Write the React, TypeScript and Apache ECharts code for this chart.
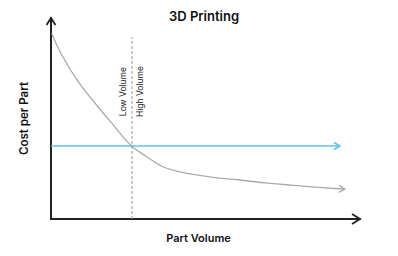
import React, { useEffect, useRef } from "react";
import * as echarts from "echarts";

const curveX = [0.2, 3.5, 8.8, 14.2, 19.6, 26.1, 31.0, 36.2, 41.7, 47.2, 52.4, 61.2, 70.2, 81.1, 95.1];
const curveY = [92.4, 81.6, 68.3, 57.7, 47.8, 36.3, 31.0, 26.0, 23.5, 21.9, 20.7, 19.4, 17.8, 16.4, 14.8];
const flatX = [0, 93.5];
const flatY = [36.3, 36.3];
const thresholdX = 26.2;
const thresholdTop = 90.5;
const labelY = 63.4;
const labels = ["Low Volume", "High Volume"];

const arrowSeries = (
  data: number[][],
  color: string,
  len: number,
  half: number,
  width: number
) => ({
  type: "custom",
  coordinateSystem: "cartesian2d",
  silent: true,
  z: 10,
  data,
  renderItem: (_params: any, api: any) => {
    const p = api.coord([api.value(0), api.value(1)]);
    const q = api.coord([api.value(2), api.value(3)]);
    let dx = p[0] - q[0];
    let dy = p[1] - q[1];
    const d = Math.hypot(dx, dy) || 1;
    dx /= d;
    dy /= d;
    const nx = -dy;
    const ny = dx;
    const bx = p[0] - dx * len;
    const by = p[1] - dy * len;
    return {
      type: "polyline",
      shape: {
        points: [
          [bx + nx * half, by + ny * half],
          [p[0], p[1]],
          [bx - nx * half, by - ny * half],
        ],
      },
      style: { stroke: color, lineWidth: width, fill: null, lineJoin: "miter" },
    };
  },
});

export default function App() {
  const ref = useRef<HTMLDivElement>(null);
  useEffect(() => {
    if (!ref.current) return;
    const chart = echarts.init(ref.current, null, { renderer: "svg" });
    const n = curveX.length;
    chart.setOption({
      animation: false,
      backgroundColor: "#fff",
      title: {
        text: "3D Printing",
        left: 169,
        top: 9,
        padding: 0,
        textStyle: { fontFamily: "Inter", fontSize: 13, fontWeight: 600, color: "#111" },
      },
      grid: { left: 51, top: 18, width: 309, height: 201 },
      xAxis: {
        type: "value",
        min: 0,
        max: 100,
        name: "Part Volume",
        nameLocation: "middle",
        nameGap: 13,
        nameTextStyle: {
          fontFamily: "Inter",
          fontSize: 11,
          fontWeight: 600,
          color: "#111",
          padding: [0, 14, 0, 0],
        },
        axisLine: { show: true, lineStyle: { color: "#222", width: 2 } },
        axisTick: { show: false },
        axisLabel: { show: false },
        splitLine: { show: false },
      },
      yAxis: {
        type: "value",
        min: 0,
        max: 100,
        name: "Cost per Part",
        nameLocation: "middle",
        nameGap: 21,
        nameRotate: 90,
        nameTextStyle: { fontFamily: "Inter", fontSize: 11.5, fontWeight: 600, color: "#111" },
        axisLine: { show: true, lineStyle: { color: "#222", width: 2 } },
        axisTick: { show: false },
        axisLabel: { show: false },
        splitLine: { show: false },
      },
      series: [
        {
          type: "line",
          data: curveX.map((x, i) => [x, curveY[i]]),
          smooth: 0.4,
          showSymbol: false,
          silent: true,
          lineStyle: { color: "#aaaaaa", width: 1.3 },
        },
        {
          type: "line",
          data: flatX.map((x, i) => [x, flatY[i]]),
          showSymbol: false,
          silent: true,
          lineStyle: { color: "#5cc3ef", width: 1.6 },
        },
        {
          type: "line",
          data: [
            [thresholdX, 0],
            [thresholdX, thresholdTop],
          ],
          showSymbol: false,
          silent: true,
          lineStyle: { color: "#999", width: 1, type: [3, 2] },
        },
        arrowSeries([[flatX[1], flatY[1], flatX[0], flatY[0]]], "#5cc3ef", 6, 3.5, 1.6),
        arrowSeries(
          [[curveX[n - 1], curveY[n - 1], curveX[n - 2], curveY[n - 2]]],
          "#aaaaaa",
          6,
          3.5,
          1.3
        ),
        arrowSeries([[0, 100, 0, 0]], "#222", 7, 4.5, 1.8),
        arrowSeries([[100, 0, 0, 0]], "#222", 8, 5, 1.8),
        {
          type: "custom",
          coordinateSystem: "cartesian2d",
          silent: true,
          data: [[thresholdX, labelY]],
          renderItem: (_params: any, api: any) => {
            const p = api.coord([api.value(0), api.value(1)]);
            return {
              type: "group",
              children: labels.map((t, i) => ({
                type: "text",
                x: p[0] + (i === 0 ? -8.5 : 8),
                y: p[1],
                rotation: Math.PI / 2,
                style: {
                  text: t,
                  fontFamily: "Inter",
                  fontSize: 8.5,
                  fill: "#222",
                  align: "center",
                  verticalAlign: "middle",
                },
              })),
            };
          },
        },
      ],
    });
    return () => chart.dispose();
  }, []);
  return (
    <div
      ref={ref}
      style={{ position: "fixed", left: 0, top: 0, width: 398, height: 256 }}
    />
  );
}
